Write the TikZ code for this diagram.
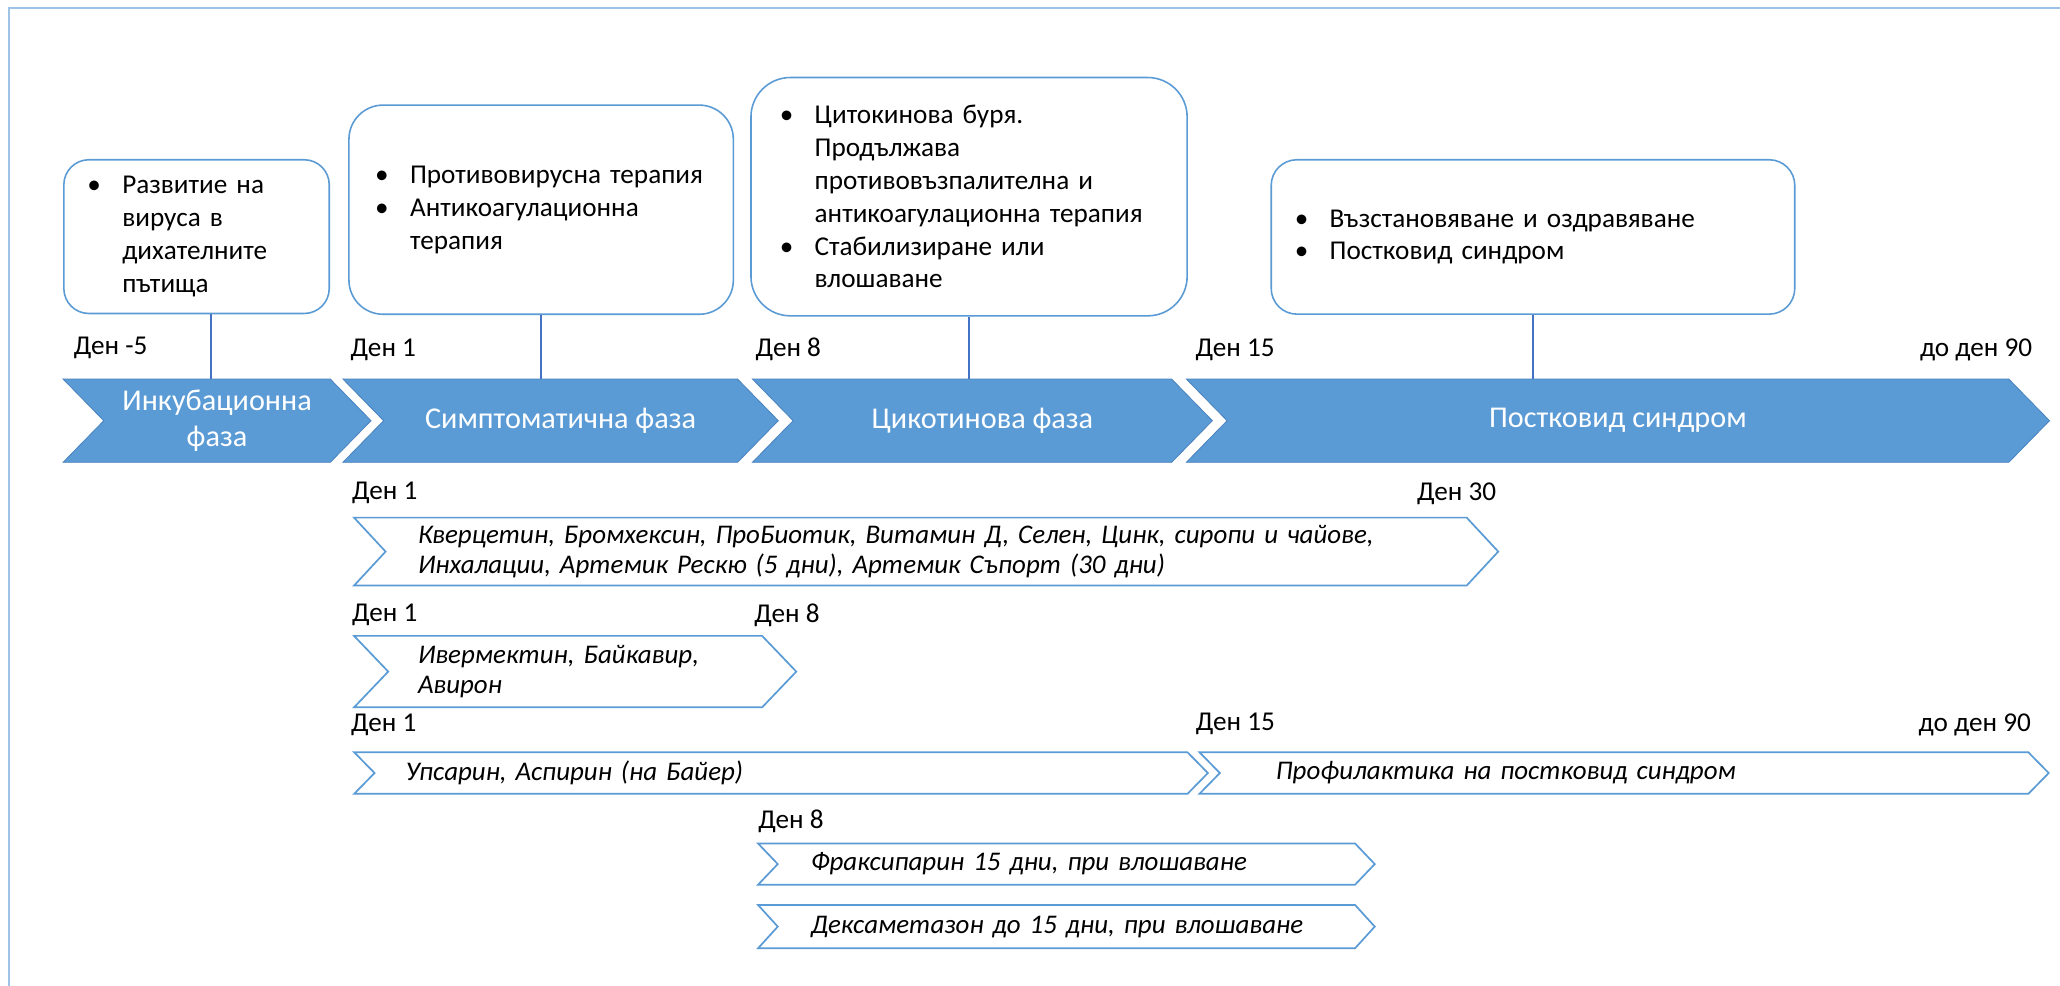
\documentclass[tikz,border=0pt]{standalone}
\usepackage{fontspec}
\setmainfont{Carlito}
\usetikzlibrary{backgrounds}
\definecolor{phase}{RGB}{91,155,213}
\definecolor{phaseedge}{RGB}{72,130,190}
\definecolor{edge}{RGB}{91,155,213}
\definecolor{connc}{RGB}{68,114,196}
\definecolor{framec}{RGB}{157,195,230}
\newcommand\bitem[1]{\mbox{\makebox[26.5pt][l]{\textbullet}#1}}
\newcommand\bcont[1]{\mbox{\hspace*{26.5pt}#1}}
\newcommand\chevpath[3]{%
  \begin{scope}[on background layer]
  \path[#3] (#1.north west) -- ([xshift=-#2pt]#1.north east) -- (#1.east) -- ([xshift=-#2pt]#1.south east) -- (#1.south west) -- ([xshift=#2pt]#1.west) -- cycle;
  \end{scope}}
\begin{document}
\begin{tikzpicture}[x=1pt,y=-1pt,
  font=\fontsize{20.7}{25}\selectfont,
  box/.style={draw=edge, line width=1.2pt, fill=white, align=left, anchor=north west, inner ysep=0pt},
  lbl/.style={inner sep=0pt, anchor=west},
  phasetext/.style={rectangle, inner sep=0pt, anchor=north west, text=white, align=center, font=\fontsize{23}{26.8}\selectfont},
  drug/.style={rectangle, anchor=north west, align=left, inner ysep=0pt, font=\itshape\fontsize{20.5}{22.5}\selectfont},
  connline/.style={draw=connc, line width=1.2pt},
  outline/.style={draw=edge, line width=1.3pt, line join=miter},
  framel/.style={draw=framec, line width=1.5pt}
]
\useasboundingbox (0,0) rectangle (1568,750);
\begin{scope}[on background layer]
\fill[white] (0,0) rectangle (1568,750);
\end{scope}
\clip (0,0) rectangle (1568,750);
\draw[framel] (7,770) -- (7,6) -- (1590,6);

% top boxes
\node[box, minimum width=202pt, minimum height=117pt, text width=166pt, inner xsep=18pt, rounded corners=19pt] (b1) at (48,121)
  {\bitem{Развитие на}\\ \bcont{вируса в}\\ \bcont{дихателните}\\ \bcont{пътища}};
\node[box, minimum width=292.6pt, minimum height=159.2pt, text width=252.6pt, inner xsep=20pt, rounded corners=26pt] (b2) at (265,79.4)
  {\bitem{Противовирусна терапия}\\ \bitem{Антикоагулационна}\\ \bcont{терапия}};
\node[box, minimum width=332pt, minimum height=181.4pt, text width=288pt, inner xsep=22pt, rounded corners=30pt] (b3) at (571,58.4)
  {\bitem{Цитокинова буря.}\\ \bcont{Продължава}\\ \bcont{противовъзпалителна и}\\ \bcont{антикоагулационна терапия}\\ \bitem{Стабилизиране или}\\ \bcont{влошаване}};
\node[box, minimum width=398.5pt, minimum height=117.5pt, text width=362.5pt, inner xsep=18pt, rounded corners=19.5pt] (b4) at (967,121)
  {\bitem{Възстановяване и оздравяване}\\ \bitem{Постковид синдром}};

% phase chevrons
\node[phasetext, minimum width=234pt, minimum height=63pt] (p1) at (48,288.5) {Инкубационна\\фаза};
\node[phasetext, minimum width=331pt, minimum height=63pt] (p2) at (261,288.5) {Симптоматична фаза};
\node[phasetext, minimum width=349.7pt, minimum height=63pt] (p3) at (572.7,288.5) {Цикотинова фаза};
\node[phasetext, minimum width=656.6pt, minimum height=63pt] (p4) at (903,288.5) {Постковид синдром};
\chevpath{p1}{31}{fill=phase, draw=phaseedge, line width=0.6pt}
\chevpath{p2}{31}{fill=phase, draw=phaseedge, line width=0.6pt}
\chevpath{p3}{31}{fill=phase, draw=phaseedge, line width=0.6pt}
\chevpath{p4}{31}{fill=phase, draw=phaseedge, line width=0.6pt}

% connectors
\coordinate (k1) at ([xshift=11pt]b1.south);
\draw[connline] (k1) -- (k1 |- p1.north);
\draw[connline] (b2.south) -- (b2.south |- p2.north);
\draw[connline] (b3.south) -- (b3.south |- p3.north);
\draw[connline] (b4.south) -- (b4.south |- p4.north);

% day labels top
\node[lbl] (t1) at (56,265) {Ден -5};
\node[lbl] (t2) at (266.7,266) {Ден 1};
\node[lbl] (t3) at (575,266) {Ден 8};
\node[lbl] (t4) at (909.8,266) {Ден 15};
\node[lbl, anchor=east] (t5) at (1547,266) {до ден 90};

% drug rows
\node[lbl] (la1) at (267.8,375.5) {Ден 1};
\node[lbl, anchor=east] (la2) at (1139,375.5) {Ден 30};
\node[drug, minimum width=870.5pt, minimum height=51.3pt, text width=773.5pt, inner xsep=48.5pt] (rA) at (269.5,394)
  {\mbox{Кверцетин, Бромхексин, ПроБиотик, Витамин Д, Селен, Цинк, сиропи и чайове,}\\ \mbox{Инхалации, Артемик Рескю (5 дни), Артемик Съпорт (30 дни)}};
\chevpath{rA}{24}{outline}

\node[lbl] (lb1) at (267.8,468) {Ден 1};
\node[lbl] (lb2) at (574,468) {Ден 8};
\node[drug, minimum width=336.2pt, minimum height=54pt, text width=239.2pt, inner xsep=48.5pt] (rB) at (269.5,484)
  {\mbox{Ивермектин, Байкавир,}\\ \mbox{Авирон}};
\chevpath{rB}{26}{outline}

\node[lbl] (lc1) at (267,552) {Ден 1};
\node[lbl] (lc2) at (910,551) {Ден 15};
\node[lbl, anchor=east] (lc3) at (1546,552) {до ден 90};
\node[drug, minimum width=649.4pt, minimum height=31.2pt, text width=571.4pt, inner xsep=39pt] (rC1) at (269.6,572.6)
  {\mbox{Упсарин, Аспирин (на Байер)}};
\chevpath{rC1}{15.5}{outline}
\node[drug, minimum width=646pt, minimum height=31.2pt, text width=530pt, inner xsep=58pt] (rC2) at (913,572.6)
  {\mbox{Профилактика на постковид синдром}};
\chevpath{rC2}{15.5}{outline}

\node[lbl] (ld1) at (577,625) {Ден 8};
\node[drug, minimum width=469pt, minimum height=31pt, text width=389pt, inner xsep=40pt] (rD) at (577,642)
  {\mbox{Фраксипарин 15 дни, при влошаване}};
\chevpath{rD}{15}{outline}
\node[drug, minimum width=469pt, minimum height=32.6pt, text width=389pt, inner xsep=40pt] (rE) at (577,688.8)
  {\mbox{Дексаметазон до 15 дни, при влошаване}};
\chevpath{rE}{15}{outline}
\end{tikzpicture}
\end{document}
